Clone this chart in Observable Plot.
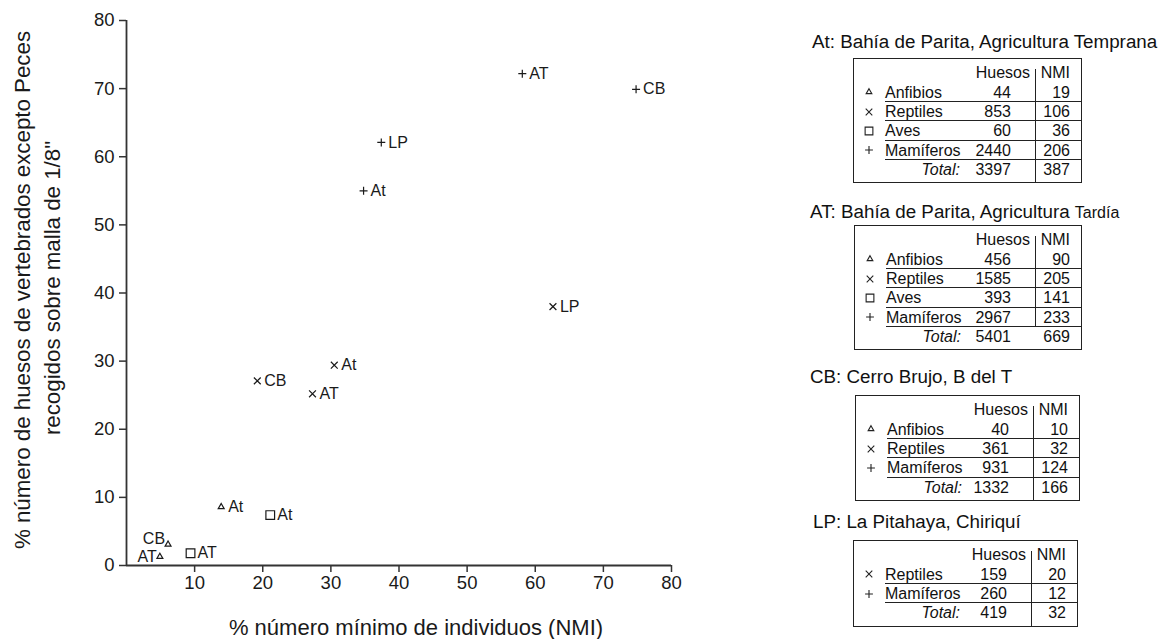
<!DOCTYPE html>
<html>
<head>
<meta charset="utf-8">
<script src="https://cdn.jsdelivr.net/npm/d3@7"></script>
<script src="https://cdn.jsdelivr.net/npm/@observablehq/plot@0.6"></script>
<style>
  body { margin: 0; background: #fff; }
  #wrap { position: relative; width: 1165px; height: 639px; overflow: hidden; background: #fff;
          font-family: "Liberation Sans", Arial, sans-serif; color: #111; }
  #chart { position: absolute; left: 0; top: 0; }
  .abs { position: absolute; white-space: nowrap; }
</style>
</head>
<body>
<div id="wrap"><div id="chart"></div></div>
<script>
// ---------- scatter data ----------
const pointLabels = ["AT", "CB", "LP", "At", "LP", "At", "CB", "AT", "At", "At", "CB", "AT", "AT"];
const pointTaxon  = ["Mamíferos", "Mamíferos", "Mamíferos", "Mamíferos", "Reptiles", "Reptiles", "Reptiles", "Reptiles",
                     "Anfibios", "Aves", "Anfibios", "Anfibios", "Aves"];
const pctNMI      = [58.1, 74.8, 37.4, 34.8, 62.6, 30.5, 19.2, 27.3, 13.9, 21.1, 6.1, 4.9, 9.4];
const pctHuesos   = [72.2, 69.9, 62.1, 55.0, 38.0, 29.4, 27.1, 25.2, 8.6, 7.4, 3.1, 1.3, 1.8];
const labelSide   = ["right", "right", "right", "right", "right", "right", "right", "right",
                     "right", "right", "upleft", "left", "right"];

const taxa = ["Anfibios", "Reptiles", "Aves", "Mamíferos"];
const taxaSymbols = ["triangle", "times", "square", "plus"];
const xTicks = [10, 20, 30, 40, 50, 60, 70, 80];
const yTicks = [0, 10, 20, 30, 40, 50, 60, 70, 80];
const xTitle = "% número mínimo de individuos (NMI)";
const yTitle1 = "% número de huesos de vertebrados excepto Peces";
const yTitle2 = "recogidos sobre malla de 1/8\"";

// ---------- table data ----------
const siteTitles = ["At: Bahía de Parita, Agricultura Temprana", "AT: Bahía de Parita, Agricultura ", "CB: Cerro Brujo, B del T", "LP: La Pitahaya, Chiriquí"];
const siteTitleTails = ["", "Tardía", "", ""];
const taxaAt = ["Anfibios", "Reptiles", "Aves", "Mamíferos"];
const huesosAt = [44, 853, 60, 2440];
const nmiAt = [19, 106, 36, 206];
const totalAt = [3397, 387];
const taxaAT = ["Anfibios", "Reptiles", "Aves", "Mamíferos"];
const huesosAT = [456, 1585, 393, 2967];
const nmiAT = [90, 205, 141, 233];
const totalAT = [5401, 669];
const taxaCB = ["Anfibios", "Reptiles", "Mamíferos"];
const huesosCB = [40, 361, 931];
const nmiCB = [10, 32, 124];
const totalCB = [1332, 166];
const taxaLP = ["Reptiles", "Mamíferos"];
const huesosLP = [159, 260];
const nmiLP = [20, 12];
const totalLP = [419, 32];

// ---------- chart ----------
const points = pointLabels.map((label, i) => ({
  label, taxon: pointTaxon[i], x: pctNMI[i], y: pctHuesos[i], side: labelSide[i]
}));
const symbolR = {"Anfibios": 2.2, "Reptiles": 3.2, "Aves": 4.9, "Mamíferos": 2.7};

const ink = "#1a1a1a";
const chart = Plot.plot({
  width: 720,
  height: 639,
  marginLeft: 126,
  marginRight: 49,
  marginTop: 20,
  marginBottom: 74,
  x: {domain: [0, 80]},
  y: {domain: [0, 80]},
  symbol: {domain: taxa, range: taxaSymbols},
  style: {fontFamily: "Liberation Sans, Arial, sans-serif", fontSize: "18.5px", color: ink, background: "#fff", overflow: "visible"},
  marks: [
    Plot.axisX({ticks: xTicks, tickSize: 7, tickPadding: 3, label: null, stroke: "#333", strokeWidth: 1.5, fontSize: 18.5}),
    Plot.axisY({ticks: yTicks, tickSize: 7, tickPadding: 5, label: null, stroke: "#333", strokeWidth: 1.5, fontSize: 18.5}),
    Plot.ruleY([0], {stroke: "#333", strokeWidth: 1.8}),
    Plot.ruleX([0], {stroke: "#333", strokeWidth: 1.8}),
    ...taxa.map(t => Plot.dot(points.filter(d => d.taxon === t), {
      x: "x", y: "y", symbol: "taxon", r: symbolR[t], stroke: ink, strokeWidth: 1.2, fill: "none"
    })),
    Plot.text(points.filter(d => d.side === "right"), {x: "x", y: "y", text: "label", dx: 7, textAnchor: "start", fontSize: 16, fill: ink}),
    Plot.text(points.filter(d => d.side === "left"), {x: "x", y: "y", text: "label", dx: -3, textAnchor: "end", fontSize: 16, fill: ink}),
    Plot.text(points.filter(d => d.side === "upleft"), {x: "x", y: "y", text: "label", dx: -3, dy: -6, textAnchor: "end", fontSize: 16, fill: ink}),
    Plot.text([xTitle], {text: d => d, frameAnchor: "bottom", textAnchor: "middle", lineAnchor: "middle", dx: 17, dy: 62, fontSize: 22, fill: ink}),
    Plot.text([yTitle1], {text: d => d, frameAnchor: "left", textAnchor: "middle", lineAnchor: "middle", rotate: -90, dx: -104, dy: -3, fontSize: 22.3, fill: ink}),
    Plot.text([yTitle2], {text: d => d, frameAnchor: "left", textAnchor: "middle", lineAnchor: "middle", rotate: -90, dx: -74, dy: -5, fontSize: 22.3, fill: ink})
  ]
});
document.getElementById("chart").appendChild(chart);

// ---------- tables ----------
const wrap = document.getElementById("wrap");
const tables = [
  {taxa: taxaAt, huesos: huesosAt, nmi: nmiAt, total: totalAt, sepTotal: true},
  {taxa: taxaAT, huesos: huesosAT, nmi: nmiAT, total: totalAT, sepTotal: false},
  {taxa: taxaCB, huesos: huesosCB, nmi: nmiCB, total: totalCB, sepTotal: true},
  {taxa: taxaLP, huesos: huesosLP, nmi: nmiLP, total: totalLP, sepTotal: true}
];
const boxLeft = [853, 854, 855, 853];
const boxTop = [58, 225, 395, 540];
const boxWidth = [229, 228, 225, 225];
const titleLeft = [812, 810, 810, 813];
const titleY = [42, 212, 377, 522];
const rowH = 19.4;

function el(tag, styles, html) {
  const e = document.createElement(tag);
  e.className = "abs";
  Object.assign(e.style, styles);
  if (html != null) e.innerHTML = html;
  wrap.appendChild(e);
  return e;
}
function textAt(x, yc, str, opts = {}) {
  const fs = opts.fontSize || 16;
  const lh = Math.round(fs * 1.3);
  const s = {top: (yc - lh / 2) + "px", lineHeight: lh + "px", fontSize: fs + "px", fontStyle: opts.italic ? "italic" : "normal"};
  if (opts.align === "right") { s.left = (x - 300) + "px"; s.width = "300px"; s.textAlign = "right"; }
  else if (opts.align === "center") { s.left = (x - 150) + "px"; s.width = "300px"; s.textAlign = "center"; }
  else s.left = x + "px";
  return el("div", s, str);
}
function line(x1, y1, x2, y2) {
  if (y1 === y2) el("div", {left: x1 + "px", top: (y1 - 0.75) + "px", width: (x2 - x1) + "px", height: "0", borderTop: "1.5px solid #222"});
  else el("div", {left: (x1 - 0.75) + "px", top: y1 + "px", width: "0", height: (y2 - y1) + "px", borderLeft: "1.5px solid #222"});
}
const tableSymbolSize = {"Anfibios": 14, "Reptiles": 30, "Aves": 60, "Mamíferos": 22};
function symbolSvg(cx, cy, taxon) {
  const type = {"triangle": d3.symbolTriangle, "times": d3.symbolTimes, "square": d3.symbolSquare, "plus": d3.symbolPlus}[taxaSymbols[taxa.indexOf(taxon)]];
  const d = d3.symbol(type, tableSymbolSize[taxon])();
  el("div", {left: (cx - 7) + "px", top: (cy - 7) + "px", width: "14px", height: "14px"},
     `<svg width="14" height="14" viewBox="-7 -7 14 14" style="display:block;overflow:visible"><path d="${d}" fill="none" stroke="#222" stroke-width="1.1"/></svg>`);
}

tables.forEach((t, i) => {
  const bx = boxLeft[i], by = boxTop[i], W = boxWidth[i];
  const nRows = t.taxa.length + 2;
  const H = 5 + rowH * nRows + 4;
  const tail = siteTitleTails[i] ? `<span style="font-size:16px">${siteTitleTails[i]}</span>` : "";
  textAt(titleLeft[i], titleY[i], siteTitles[i] + tail, {fontSize: 18.8});
  el("div", {left: bx + "px", top: by + "px", width: W + "px", height: H + "px", border: "1.5px solid #222", boxSizing: "border-box"});
  const sepX = bx + W - 46;
  const rowC = k => by + 5 + rowH * k + rowH / 2;
  // header
  textAt(sepX - 6, rowC(0), "Huesos", {align: "right"});
  textAt(bx + W - 12, rowC(0), "NMI", {align: "right"});
  // rows
  t.taxa.forEach((name, k) => {
    const yc = rowC(k + 1);
    symbolSvg(bx + 16, yc, name);
    textAt(bx + 32, yc, name);
    textAt(sepX - 25, yc, String(t.huesos[k]), {align: "right"});
    textAt(bx + W - 12, yc, String(t.nmi[k]), {align: "right"});
    const yb = by + 5 + rowH * (k + 2);
    line(bx + 32, yb, bx + W, yb);
  });
  const yt = rowC(nRows - 1);
  textAt(bx + 107, yt, "Total:", {align: "right", italic: true});
  textAt(sepX - 25, yt, String(t.total[0]), {align: "right"});
  textAt(bx + W - 12, yt, String(t.total[1]), {align: "right"});
  const sepBottom = t.sepTotal ? by + H : by + 5 + rowH * (nRows - 1);
  line(sepX, by + 11, sepX, sepBottom);
});
</script>
</body>
</html>
